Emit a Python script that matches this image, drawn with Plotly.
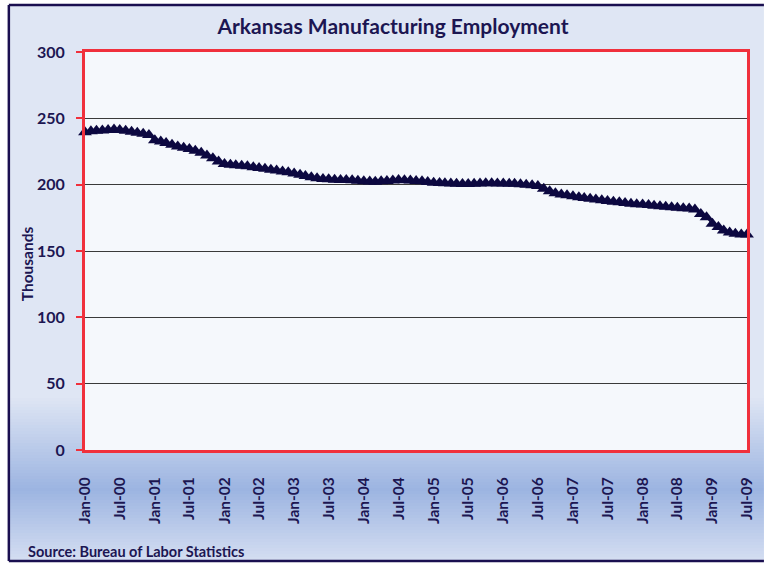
import pandas as pd
import plotly.graph_objs as go

# monthly employment, thousands (Jan-2000 .. Jul-2009)
emp_2000 = [239.5, 240.2, 240.6, 240.9, 241.2, 241.5, 241.3, 240.6, 239.9, 239.2, 238.3, 237.5]
emp_2001 = [233.5, 232.5, 231.5, 230.0, 228.8, 227.8, 226.8, 225.5, 224.0, 222.0, 220.0, 217.5]
emp_2002 = [215.5, 215.0, 214.6, 214.2, 213.8, 213.2, 212.5, 212.0, 211.3, 210.6, 210.0, 209.3]
emp_2003 = [208.5, 207.5, 206.5, 205.5, 204.8, 204.3, 204.0, 203.8, 203.6, 203.5, 203.3, 203.0]
emp_2004 = [202.5, 202.3, 202.2, 202.5, 202.8, 203.2, 203.5, 203.4, 203.2, 202.8, 202.5, 202.0]
emp_2005 = [201.5, 201.2, 201.0, 200.8, 200.6, 200.5, 200.5, 200.7, 200.9, 201.0, 201.0, 200.9]
emp_2006 = [200.8, 200.7, 200.6, 200.4, 200.0, 199.5, 199.0, 197.0, 195.0, 193.5, 192.5, 192.0]
emp_2007 = [191.2, 190.6, 190.0, 189.4, 188.8, 188.2, 187.7, 187.2, 186.7, 186.2, 185.7, 185.3]
emp_2008 = [185.0, 184.6, 184.2, 183.8, 183.4, 183.0, 182.6, 182.3, 182.0, 181.2, 177.8, 175.5]
emp_2009 = [170.5, 168.0, 165.5, 164.0, 163.0, 162.5, 162.5]

values = (emp_2000 + emp_2001 + emp_2002 + emp_2003 + emp_2004 + emp_2005
          + emp_2006 + emp_2007 + emp_2008 + emp_2009)
dates = pd.date_range('2000-01-01', periods=len(values), freq='MS')

W, H = 767, 563
L, R, T, B = 85, 750, 52, 450
NAVY = '#1c1652'
RED = '#f0303c'
FRAME = '#1a0f50'


def px(x):
    return (x - L) / (R - L)


def py(y):
    return (B - y) / (B - T)


def mix(c1, c2, t):
    a = [int(c1[i:i + 2], 16) for i in (1, 3, 5)]
    b = [int(c2[i:i + 2], 16) for i in (1, 3, 5)]
    return 'rgb(%d,%d,%d)' % tuple(round(a[k] + (b[k] - a[k]) * t) for k in range(3))


shapes = [dict(type='rect', xref='paper', yref='paper', x0=px(8), x1=px(W), y0=py(5), y1=py(561),
               fillcolor='#dfe6f4', line=dict(width=0), layer='below')]
# background gradient near the bottom
top_c, mid_c, bot_c = '#dfe6f4', '#9cb4e1', '#d6dff2'
y = 395
while y < 561:
    if y < 488:
        c = mix(top_c, mid_c, (y - 395) / (488 - 395))
    else:
        c = mix(mid_c, bot_c, (y - 488) / (561 - 488))
    shapes.append(dict(type='rect', xref='paper', yref='paper', x0=px(8), x1=px(W),
                       y0=py(y), y1=py(min(y + 3, 561)), fillcolor=c, line=dict(width=0), layer='below'))
    y += 3
# plot area fill
shapes.append(dict(type='rect', xref='paper', yref='paper', x0=0, x1=1, y0=0, y1=1,
                   fillcolor='#f5f8fc', line=dict(width=0), layer='below'))
# outer frame: top, left, bottom (right side runs past the picture)
for x0, y0, x1, y1 in [(8.5, 5, W, 5), (8.5, 5, 8.5, 561), (8.5, 561, W, 561)]:
    shapes.append(dict(type='line', xref='paper', yref='paper', x0=px(x0), x1=px(x1),
                       y0=py(y0), y1=py(y1), line=dict(color=FRAME, width=2.5), layer='above'))

fig = go.Figure()
fig.add_trace(go.Scatter(x=dates, y=values, mode='lines+markers', name='Employment',
                         line=dict(color='#0c0840', width=2),
                         marker=dict(symbol='triangle-up', size=12, color='#0c0840'),
                         cliponaxis=False))

fig.update_layout(
    width=W, height=H,
    margin=dict(l=L, r=W - R, t=T, b=H - B),
    paper_bgcolor='white',
    plot_bgcolor='rgba(0,0,0,0)',
    showlegend=False,
    font=dict(family='Lato', color=NAVY),
    title=dict(text='Arkansas Manufacturing Employment', x=393 / W, xanchor='center',
               y=1 - 27 / H, yanchor='middle',
               font=dict(size=21, family='Lato', weight='bold', color=NAVY)),
    xaxis=dict(range=['2000-01-01', '2009-07-01'], dtick='M6', tick0='2000-01-01',
               tickformat='%b-%y', tickangle=-90, showgrid=False,
               ticks='outside', ticklen=18, tickcolor='rgba(0,0,0,0)',
               tickfont=dict(size=15.5, family='Lato', weight='bold', color=NAVY),
               showline=True, linecolor=RED, linewidth=3, mirror=True, zeroline=False),
    yaxis=dict(range=[0, 300], dtick=50, showgrid=True, gridcolor='#3a3a3a', gridwidth=1,
               ticks='outside', ticklen=6, tickcolor=RED, tickwidth=2, ticklabelstandoff=8,
               tickfont=dict(size=16, family='Lato', weight='bold', color=NAVY),
               showline=True, linecolor=RED, linewidth=3, mirror=True, zeroline=False),
    shapes=shapes,
    annotations=[
        dict(text='Thousands', xref='paper', yref='paper', x=px(27), y=py(264),
             textangle=-90, showarrow=False, xanchor='center', yanchor='middle',
             font=dict(size=15.5, family='Lato', weight='bold', color=NAVY)),
        dict(text='Source: Bureau of Labor Statistics', xref='paper', yref='paper',
             x=px(26), y=py(551), xanchor='left', yanchor='middle', showarrow=False,
             font=dict(size=14.5, family='Lato', weight='bold', color=NAVY)),
    ],
)

fig.write_html('out.html', config={'displayModeBar': False},
               post_script="document.body.style.margin='0';document.body.style.overflow='hidden';"
                           "document.documentElement.style.overflow='hidden';")
